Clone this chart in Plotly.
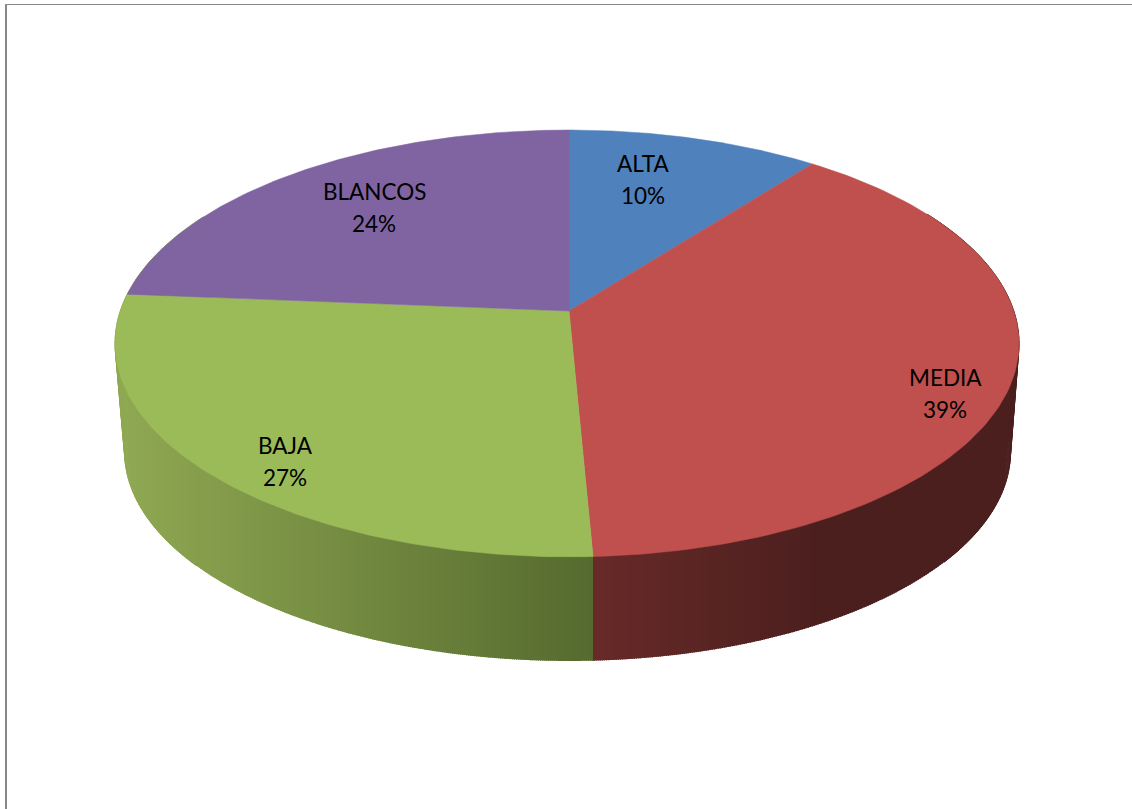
import numpy as np
import plotly.graph_objects as go

# ---- data ----
CATEGORIES = ["ALTA", "MEDIA", "BAJA", "BLANCOS"]
VALUES = [10.5, 38.77, 27.03, 23.7]
PERCENT_TEXT = ["10%", "39%", "27%", "24%"]
TOP_COLORS = ["#4F81BD", "#C0504D", "#9BBB59", "#8064A2"]

# ---- label placement (radius fraction, angle offset from slice middle) ----
LABEL_R = [0.724, 0.881, 0.866, 0.714]
LABEL_DANGLE = [-4.1, 7.4, -4.9, 1.6]
LINE_OFFSET = 16

# ---- perspective disc geometry ----
W, H = 1132, 809
APEX_X, APEX_Y = 569.0, 311.0
KX_RIGHT, KX_LEFT = 444.8, 448.7
KY = 208.5
PERSP = 0.152
BASE_SCALE = 0.98
BASE_DX = 0.5
BASE_DY = 109.0


def project(theta_deg, r=1.0, base=False):
    t = np.radians(np.asarray(theta_deg, dtype=float))
    x = r * np.sin(t)
    y = r * np.cos(t)
    w = 1 + PERSP * y
    k = np.where(x >= 0, KX_RIGHT, KX_LEFT)
    X = k * x / w
    Y = -KY * y / w
    if base:
        return APEX_X + BASE_DX + BASE_SCALE * X, APEX_Y + BASE_DY + BASE_SCALE * Y
    return APEX_X + X, APEX_Y + Y


def lerp_hex(c0, c1, f):
    a = [int(c0[i:i + 2], 16) for i in (1, 3, 5)]
    b = [int(c1[i:i + 2], 16) for i in (1, 3, 5)]
    return "rgb(%d,%d,%d)" % tuple(round(p + (q - p) * f) for p, q in zip(a, b))


total = sum(VALUES)
edges = [0.0]
for v in VALUES:
    edges.append(edges[-1] + 360.0 * v / total)
split_theta = edges[2]
split_x = float(project(split_theta, base=True)[0])

GREEN_OUT, GREEN_IN = "#8FA852", "#556A2E"
RED_IN, RED_OUT = "#672A28", "#4B1F1E"


def band_color(x):
    if x >= split_x:
        f = min(max((x - split_x) / (820 - split_x), 0), 1)
        return lerp_hex(RED_IN, RED_OUT, f)
    f = min(max((x - 125) / (split_x - 125), 0), 1)
    return lerp_hex(GREEN_OUT, GREEN_IN, f)


fig = go.Figure()


def add_poly(xs, ys, col, width=0):
    fig.add_trace(go.Scatter(
        x=list(xs), y=list(ys), mode="lines", fill="toself", fillcolor=col,
        line=dict(color=col, width=width), hoverinfo="skip", showlegend=False))


# the two outer ends of the wall, plain colour
for start, stop, col in ((60.0, 130.0, RED_OUT), (230.0, 300.0, GREEN_OUT)):
    wall = np.arange(start, stop, 1.0)
    for a, b in zip(wall[:-1], wall[1:]):
        xt, yt = project([a, b])
        xb, yb = project([b, a], base=True)
        add_poly(np.r_[xt, xb], np.r_[yt, yb], col, width=1)

# vertical shading bands across the front of the wall
arc = np.linspace(90.0, 270.0, 721)
tx, ty = project(arc)
bx, by = project(arc, base=True)
tord, bord = np.argsort(tx), np.argsort(bx)
x_lo, x_hi = int(np.ceil(bx.min())) + 1, int(np.floor(bx.max())) - 1
step = 2
cols = np.unique(np.r_[np.arange(x_lo, x_hi, step), int(round(split_x))])
for x0, xn in zip(cols[:-1], cols[1:]):
    x1 = xn + 1                      # overlap, the next band paints over it
    col = band_color((x0 + xn) / 2)
    xs = np.array([x0, x1, x1, x0], dtype=float)
    top = np.interp([x0, x1], tx[tord], ty[tord]) - 3
    bot = np.interp([x1, x0], bx[bord], by[bord])
    add_poly(xs, np.r_[top, bot], col)

# top faces
for i, name in enumerate(CATEGORIES):
    th = np.linspace(edges[i], edges[i + 1], 120)
    xs, ys = project(th)
    fig.add_trace(go.Scatter(
        x=[APEX_X] + list(xs) + [APEX_X], y=[APEX_Y] + list(ys) + [APEX_Y],
        mode="lines", fill="toself", fillcolor=TOP_COLORS[i],
        line=dict(color=TOP_COLORS[i], width=0.5),
        name=name, hoverinfo="name", showlegend=False))

# labels
annotations = []
font = dict(family="Lato", size=22.5, color="#000000")
for i, name in enumerate(CATEGORIES):
    mid = (edges[i] + edges[i + 1]) / 2 + LABEL_DANGLE[i]
    lx, ly = project(mid, LABEL_R[i])
    for text, shift in ((name, LINE_OFFSET), (PERCENT_TEXT[i], -LINE_OFFSET)):
        annotations.append(dict(
            x=float(lx), y=float(ly), xref="x", yref="y", text=text,
            showarrow=False, xanchor="center", yanchor="middle",
            yshift=shift, font=font))

fig.update_layout(
    width=W, height=H, margin=dict(l=0, r=0, t=0, b=0),
    paper_bgcolor="#FFFFFF", plot_bgcolor="#FFFFFF", showlegend=False,
    xaxis=dict(range=[0, W], visible=False, fixedrange=True),
    yaxis=dict(range=[H, 0], visible=False, fixedrange=True),
    annotations=annotations,
    shapes=[
        dict(type="line", x0=5, x1=W, y0=4.5, y1=4.5,
             line=dict(color="#888888", width=1), layer="below"),
        dict(type="line", x0=6, x1=6, y0=4, y1=H,
             line=dict(color="#888888", width=2), layer="below"),
    ],
)

fig.write_html(
    "out.html",
    config=dict(displayModeBar=False),
    post_script="document.body.style.margin='0';document.body.style.overflow='hidden';",
)
